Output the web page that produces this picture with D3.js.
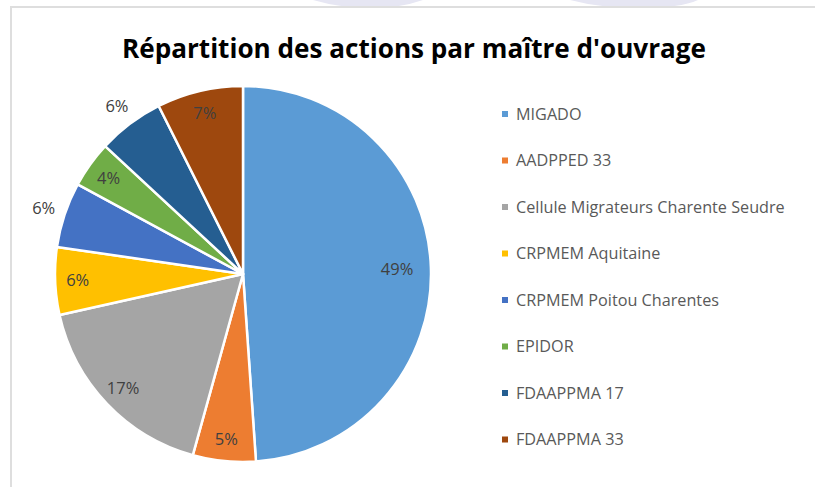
<!DOCTYPE html>
<html>
<head>
<meta charset="utf-8">
<script src="https://cdn.jsdelivr.net/npm/d3@7"></script>
<style>
  body { margin: 0; background: #fff; }
  svg { display: block; font-family: "Open Sans", "Noto Sans", sans-serif; }
</style>
</head>
<body>
<script>
// chart values (share of actions, %)
var categories = ['MIGADO', 'AADPPED 33', 'Cellule Migrateurs Charente Seudre', 'CRPMEM Aquitaine',
                  'CRPMEM Poitou Charentes', 'EPIDOR', 'FDAAPPMA 17', 'FDAAPPMA 33'];
var values = [48.9, 5.4, 17.2, 5.8, 5.6, 4.0, 5.7, 7.4];
var colors = ['#5b9bd5', '#ed7d31', '#a5a5a5', '#ffc000', '#4472c4', '#70ad47', '#255e91', '#9e480e'];
// slices whose label Excel pushed outside the pie (dark fills)
var outsideLabels = ['CRPMEM Poitou Charentes', 'FDAAPPMA 17'];
var title = "Répartition des actions par maître d'ouvrage";

var data = categories.map(function(c, i) { return {key: c, value: values[i], color: colors[i]}; });

var w = 816, h = 487;
var cx = 243, cy = 274, radius = 188;

var svg = d3.select('body').append('svg')
    .attr('width', w)
    .attr('height', h);

// faint shapes of the page behind the screenshot
svg.append('path')
    .attr('d', 'M313,0 L423,0 Q400,8 372,8 Q340,8 313,0 Z')
    .attr('fill', '#e6e6f3');
svg.append('path')
    .attr('d', 'M570,0 L698,0 Q680,8 640,8 Q600,8 570,0 Z')
    .attr('fill', '#e6e6f3');

// chart frame
svg.append('path')
    .attr('d', 'M11,487 L11,7 L815,7')
    .attr('fill', 'none')
    .attr('stroke', '#dedede')
    .attr('stroke-width', 2);

// fit a text element into a given width
function fit(sel, target) {
  var len = sel.node().getComputedTextLength();
  if (Math.abs(len - target) > 2) {
    sel.attr('textLength', target).attr('lengthAdjust', 'spacingAndGlyphs');
  }
}

var t = svg.append('text')
    .attr('x', 414)
    .attr('y', 58)
    .attr('text-anchor', 'middle')
    .attr('font-size', 26)
    .attr('font-weight', 'bold')
    .attr('fill', '#000')
    .text(title);
fit(t, 584);

var pie = d3.pie()
    .sort(null)
    .value(function(d) { return d.value; });

var arc = d3.arc()
    .innerRadius(0)
    .outerRadius(radius);

var arcs = pie(data);

var g = svg.append('g')
    .attr('transform', 'translate(' + cx + ',' + cy + ')');

g.selectAll('path.slice')
    .data(arcs)
    .enter()
    .append('path')
    .attr('class', 'slice')
    .attr('d', arc)
    .attr('fill', function(d) { return d.data.color; })
    .attr('stroke', '#fff')
    .attr('stroke-width', 2.5)
    .attr('stroke-linejoin', 'round');

function labelRadius(d) {
  if (outsideLabels.indexOf(d.data.key) >= 0) return radius + 22;
  if (d.data.value > 25) return radius * 0.82;
  return radius * 0.88;
}

g.selectAll('.val-label')
    .data(arcs)
    .enter()
    .append('text')
    .attr('class', 'val-label')
    .attr('transform', function(d) {
      var a = (d.startAngle + d.endAngle) / 2;
      var r = labelRadius(d);
      return 'translate(' + (r * Math.sin(a)) + ',' + (-r * Math.cos(a)) + ')';
    })
    .attr('text-anchor', 'middle')
    .attr('dy', '0.36em')
    .attr('font-size', 16.5)
    .attr('fill', '#404040')
    .text(function(d) { return Math.round(d.data.value) + '%'; });

// legend
var legend = svg.selectAll('.legend')
    .data(data)
    .enter()
    .append('g')
    .attr('class', 'legend')
    .attr('transform', function(d, i) { return 'translate(502,' + (114 + i * 46.5) + ')'; });

legend.append('rect')
    .attr('x', 0)
    .attr('y', -3)
    .attr('width', 6)
    .attr('height', 6)
    .attr('fill', function(d) { return d.color; });

var ltext = legend.append('text')
    .attr('x', 14)
    .attr('dy', '0.36em')
    .attr('font-size', 13.5)
    .attr('fill', '#595959')
    .text(function(d) { return d.key; });

// scale legend font so the longest name matches the picture width
var longest = ltext.filter(function(d) { return d.key === categories[2]; });
var lw = longest.node().getComputedTextLength();
ltext.attr('font-size', 13.5 * 269 / lw);
</script>
</body>
</html>
